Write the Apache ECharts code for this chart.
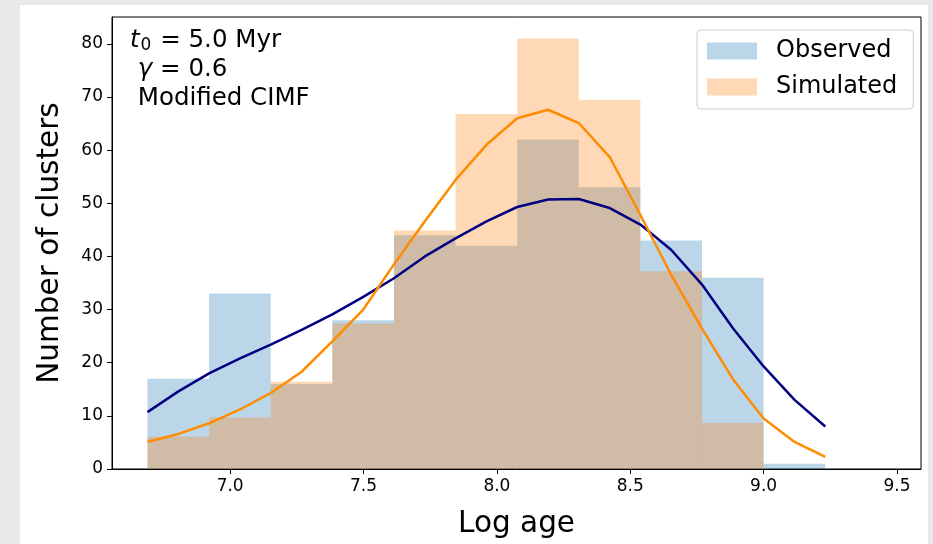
<!DOCTYPE html>
<html>
<head>
<meta charset="utf-8">
<script src="https://cdn.jsdelivr.net/npm/echarts@6/dist/echarts.min.js"></script>
<style>
  html, body { margin: 0; padding: 0; background: #e9e9e9; }
  #chart { position: absolute; left: 20px; top: 5px; width: 908px; height: 539px; background: #fff; }
</style>
</head>
<body>
<div id="chart"></div>
<script>
// histogram bins (log age)
const binEdges = [6.69, 6.921, 7.152, 7.383, 7.614, 7.845, 8.076, 8.307, 8.538, 8.769, 9.0, 9.231]
const observedCounts = [17, 33, 16, 28, 44, 42, 62, 53, 43, 36, 1]
const simulatedCounts = [6.1, 9.7, 16.4, 27.4, 44.9, 66.8, 81, 69.5, 37.2, 8.7, 0]

// smoothed curves
const curveX = [6.69, 6.806, 6.921, 7.037, 7.152, 7.268, 7.383, 7.499, 7.614, 7.730, 7.845, 7.961,
  8.076, 8.192, 8.307, 8.423, 8.538, 8.654, 8.769, 8.885, 9.0, 9.116, 9.231]
const observedCurve = [10.7, 14.6, 18.0, 20.8, 23.4, 26.2, 29.1, 32.4, 35.9, 40.0, 43.4, 46.6,
  49.3, 50.7, 50.8, 49.1, 46.0, 41.2, 34.7, 26.5, 19.3, 13.0, 8.0]
const simulatedCurve = [5.1, 6.6, 8.6, 11.2, 14.3, 18.3, 24.0, 30.0, 38.5, 46.6, 54.4, 61.0,
  66.0, 67.6, 65.1, 58.7, 47.8, 36.5, 26.4, 16.9, 9.5, 5.1, 2.3]

const xTicks = [7.0, 7.5, 8.0, 8.5, 9.0, 9.5]
const yTicks = [0, 10, 20, 30, 40, 50, 60, 70, 80]

const FONT = 'DejaVu Sans'
const BLUE_FILL = 'rgba(31,119,180,0.3)'
const ORANGE_FILL = 'rgba(255,127,14,0.3)'

function binRows(counts) {
  return counts.map((c, i) => [binEdges[i], binEdges[i + 1], c])
}

function histSeries(name, counts, fill) {
  return {
    name,
    type: 'custom',
    itemStyle: { color: fill },
    encode: { x: [0, 1], y: 2 },
    data: binRows(counts),
    renderItem(params, api) {
      const top = api.coord([api.value(0), api.value(2)])
      const bottom = api.coord([api.value(1), 0])
      return {
        type: 'rect',
        shape: { x: top[0], y: top[1], width: bottom[0] - top[0], height: bottom[1] - top[1] },
        style: { fill },
      }
    },
  }
}

function curveSeries(name, ys, color) {
  return {
    name,
    type: 'line',
    showSymbol: false,
    silent: true,
    data: curveX.map((x, i) => [x, ys[i]]),
    lineStyle: { color, width: 2.5 },
    z: 5,
  }
}

const chart = echarts.init(document.getElementById('chart'))
chart.setOption({
  animation: false,
  textStyle: { fontFamily: FONT },
  grid: {
    left: 92, top: 12, width: 809, height: 452,
    show: true, borderColor: '#000', borderWidth: 1, backgroundColor: '#fff',
  },
  legend: {
    orient: 'vertical',
    left: 677, top: 25,
    padding: [9, 16, 10, 10],
    itemWidth: 50, itemHeight: 17, itemGap: 12,
    icon: 'rect',
    borderColor: '#cccccc', borderWidth: 1, borderRadius: 4,
    backgroundColor: 'rgba(255,255,255,0.8)',
    textStyle: { fontFamily: FONT, fontSize: 24, lineHeight: 24, color: '#000', padding: [0, 0, 0, 14] },
    data: [
      { name: 'Observed', itemStyle: { color: BLUE_FILL } },
      { name: 'Simulated', itemStyle: { color: ORANGE_FILL } },
    ],
  },
  xAxis: {
    type: 'value',
    min: 6.557, max: 9.59,
    name: 'Log age',
    nameLocation: 'middle',
    nameGap: 40,
    nameTextStyle: { fontFamily: FONT, fontSize: 29.5, color: '#000' },
    axisLine: { lineStyle: { color: '#000', width: 1 } },
    axisTick: { show: true, length: 5, customValues: xTicks, lineStyle: { color: '#000' } },
    axisLabel: {
      customValues: xTicks, margin: 9, fontSize: 17, color: '#000', fontFamily: FONT,
      formatter: (v) => v.toFixed(1),
    },
    splitLine: { show: false },
  },
  yAxis: {
    type: 'value',
    min: 0, max: 85.05,
    name: 'Number of clusters',
    nameLocation: 'middle',
    nameGap: 47,
    nameTextStyle: { fontFamily: FONT, fontSize: 29.5, color: '#000' },
    axisLine: { show: true, lineStyle: { color: '#000', width: 1 } },
    axisTick: { show: true, length: 5, customValues: yTicks, lineStyle: { color: '#000' } },
    axisLabel: { customValues: yTicks, margin: 9, fontSize: 17, color: '#000', fontFamily: FONT },
    splitLine: { show: false },
  },
  graphic: [
    {
      type: 'text', left: 110, top: 21,
      style: {
        text: '{i|t}{sub|0} = 5.0 Myr\n {i|γ} = 0.6\n Modified CIMF',
        font: '24.5px "DejaVu Sans"', fill: '#000', lineHeight: 29,
        rich: {
          i: { fontStyle: 'italic', fontSize: 24.5, fontFamily: FONT, lineHeight: 29 },
          sub: { fontSize: 17, fontFamily: FONT, lineHeight: 29, padding: [10, 1, 0, 1] },
        },
      },
      z: 10,
    },
  ],
  series: [
    histSeries('Observed', observedCounts, BLUE_FILL),
    histSeries('Simulated', simulatedCounts, ORANGE_FILL),
    curveSeries('Observed KDE', observedCurve, '#000080'),
    curveSeries('Simulated KDE', simulatedCurve, '#ff8c00'),
  ],
})
</script>
</body>
</html>
